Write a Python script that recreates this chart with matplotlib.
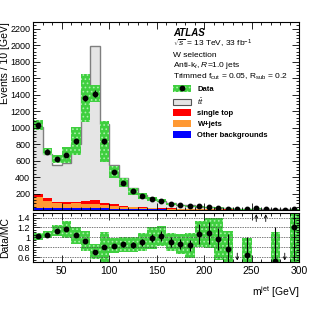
import numpy as np
import matplotlib
matplotlib.use("Agg")
import matplotlib.pyplot as plt
from matplotlib.patches import Patch
from matplotlib.lines import Line2D
from matplotlib.legend_handler import HandlerTuple
from matplotlib.ticker import MultipleLocator, AutoMinorLocator, FuncFormatter

plt.rcParams['font.family'] = ['Liberation Sans', 'DejaVu Sans']
plt.rcParams['mathtext.fontset'] = 'custom'
plt.rcParams['mathtext.rm'] = 'Liberation Sans'
plt.rcParams['mathtext.it'] = 'Liberation Sans:italic'
plt.rcParams['mathtext.bf'] = 'Liberation Sans:bold'
plt.rcParams['hatch.color'] = '#a8f0a8'
plt.rcParams['hatch.linewidth'] = 0.7

# bins of 10 GeV from 20 to 300
edges = np.arange(20, 301, 10)
centers = edges[:-1] + 5

# MC stack (events / 10 GeV)
mc_total = [1010, 675, 550, 572, 800, 1460, 1985, 1040, 550, 385, 265, 183, 137, 109,
            80, 65, 55, 42, 33, 27, 22, 18, 14, 12, 10, 7.8, 7, 5.8]
other_bkg = [30, 28, 25, 24, 24, 23, 22, 20, 17, 14, 12, 10, 8, 7,
             6, 5, 4, 4, 3, 3, 2, 2, 2, 2, 1, 1, 1, 1]
wjets = [130, 84, 55, 52, 56, 50, 47, 38, 32, 26, 20, 16, 12, 10,
         8, 7, 6, 5, 4, 4, 3, 3, 2, 2, 2, 2, 1, 1]
single_top = [40, 36, 22, 20, 20, 40, 50, 25, 18, 12, 10, 8, 7, 6,
              5, 4, 4, 3, 3, 3, 2, 2, 2, 2, 2, 1, 1, 1]

# data
data = [1030, 709, 622, 664, 832, 1358, 1410, 832, 457, 331, 225, 165, 136, 112,
        72, 56, 46, 45, 36, 26, 17, 8, 9, 19, 16, 4, 3, 7]
data_err = [30, 27, 22, 23, 30, 40, 40, 30, 22, 19, 16, 13, 11, 11,
            8, 7, 6.6, 8.4, 7.3, 6, 6.6, 5, 5, 7, 6, 5.5, 3.5, 4]
# green uncertainty bands
main_band = [60, 45, 50, 100, 170, 290, 100, 250, 72, 56, 40, 36, 25, 20,
             12, 10, 8, 7, 6, 5, 4, 3, 3, 3, 2, 2, 2, 2]
ratio_band = [0.07, 0.07, 0.11, 0.17, 0.17, 0.2, 0.15, 0.3, 0.15, 0.15, 0.15, 0.18, 0.22, 0.2,
              0.18, 0.2, 0.25, 0.27, 0.3, 0.43, 0.35, 0, 0.35, 0, 0, 0.6, 0, 0.7]

mc_total = np.array(mc_total, float)
other_bkg = np.array(other_bkg, float)
wjets = np.array(wjets, float)
single_top = np.array(single_top, float)
ttbar = mc_total - other_bkg - wjets - single_top
data = np.array(data, float)
data_err = np.array(data_err, float)
main_band = np.array(main_band, float)
ratio_band = np.array(ratio_band, float)

ratio = data / mc_total
ratio_err = data_err / mc_total

green = '#3fcf3f'
c_tt = '#e5e5e5'
c_red = '#ff0000'
c_orange = '#ff9933'
c_blue = '#0000ff'

fig = plt.figure(figsize=(3.32, 3.22), dpi=100)
ax = fig.add_axes([33/332, 1-210/322, 266/332, 188/322])
rax = fig.add_axes([33/332, 1-262/322, 266/332, 49.3/322])

# stack
bottom = np.zeros_like(mc_total)
for vals, col in [(other_bkg, c_blue), (wjets, c_orange), (single_top, c_red), (ttbar, c_tt)]:
    ax.stairs(bottom + vals, edges, baseline=bottom, fill=True, color=col, lw=0)
    bottom = bottom + vals
ax.stairs(mc_total, edges, color='#7f7f7f', lw=1.0)

# data band + points
ax.bar(centers, 2*main_band, bottom=data-main_band, width=10, color=green,
       edgecolor='#a8f0a8', lw=0, hatch='....')
ax.errorbar(centers, data, yerr=data_err, fmt='o', color='black', ms=3.2, lw=0.8, capsize=0)

ax.set_xlim(20, 300)
ax.set_ylim(0, 2280)
ax.yaxis.set_major_locator(MultipleLocator(200))
ax.yaxis.set_minor_locator(AutoMinorLocator(5))
ax.yaxis.set_major_formatter(FuncFormatter(lambda v, p: '' if v == 0 else '%d' % v))
ax.xaxis.set_major_locator(MultipleLocator(50))
ax.xaxis.set_minor_locator(MultipleLocator(10))
ax.tick_params(axis='x', labelbottom=False)
ax.set_ylabel('Events / 10 [GeV]', fontsize=7.5, ha='right')
ax.yaxis.set_label_coords(-0.085, 1.0)

for a in (ax, rax):
    a.tick_params(which='both', direction='in', top=True, right=True, labelsize=6.5, pad=2)
    a.tick_params(which='major', length=5, width=0.6)
    a.tick_params(which='minor', length=2.5, width=0.6)
    for s in a.spines.values():
        s.set_linewidth(0.8)

# text block
tx = 0.526
ax.text(tx, 0.941, 'ATLAS', transform=ax.transAxes, fontsize=7, weight='bold', style='italic', va='center')
ax.text(tx, 0.881, r'$\sqrt{s}$ = 13 TeV, 33 fb$^{-1}$', transform=ax.transAxes, fontsize=6, va='center')
ax.text(tx, 0.823, 'W selection', transform=ax.transAxes, fontsize=6, va='center')
ax.text(tx, 0.766, r'Anti-k$_{t}$, $R$=1.0 jets', transform=ax.transAxes, fontsize=6, va='center')
ax.text(tx, 0.709, r'Trimmed f$_{\rm cut}$ = 0.05, R$_{\rm sub}$ = 0.2', transform=ax.transAxes,
        fontsize=6, va='center')

h_data = (Patch(facecolor=green, edgecolor='#a8f0a8', lw=0, hatch='....'),
          Line2D([], [], marker='o', color='black', ms=3.2, ls='none'))
handles = [h_data,
           Patch(facecolor=c_tt, edgecolor='#555555', lw=0.8),
           Patch(facecolor=c_red, lw=0),
           Patch(facecolor=c_orange, lw=0),
           Patch(facecolor=c_blue, lw=0)]
labels = ['Data', r'$t\bar{t}$', 'single top', 'W+jets', 'Other backgrounds']
leg = ax.legend(handles, labels, loc='upper left', bbox_to_anchor=(0.515, 0.68), frameon=False,
                prop={'size': 5.5, 'weight': 'bold'}, handlelength=2.4, handleheight=1.0,
                handletextpad=0.8, labelspacing=0.38, borderaxespad=0,
                handler_map={tuple: HandlerTuple(ndivide=1)})

# ratio panel
for yv in [0.6, 0.8, 1.0, 1.2, 1.4]:
    rax.axhline(yv, color='#444444', lw=0.5, ls=(0, (2, 1.5)))
rax.bar(centers, 2*ratio_band, bottom=ratio-ratio_band, width=10, color=green,
        edgecolor='#a8f0a8', lw=0, hatch='....')
inr = (ratio >= 0.5) & (ratio <= 1.5)
rax.errorbar(centers[inr], ratio[inr], yerr=ratio_err[inr], fmt='o', color='black',
             ms=3.2, lw=0.8, capsize=0)
for c, r in zip(centers, ratio):
    if r > 1.5:
        rax.annotate('', xy=(c, 1.47), xytext=(c, 1.32),
                     arrowprops=dict(arrowstyle='->', lw=0.6, color='black', shrinkA=0, shrinkB=0,
                                     mutation_scale=5))
    elif r < 0.5:
        rax.annotate('', xy=(c, 0.53), xytext=(c, 0.68),
                     arrowprops=dict(arrowstyle='->', lw=0.6, color='black', shrinkA=0, shrinkB=0,
                                     mutation_scale=5))

rax.set_xlim(20, 300)
rax.set_ylim(0.5, 1.5)
rax.set_yticks([0.6, 0.8, 1.0, 1.2, 1.4])
rax.yaxis.set_minor_locator(AutoMinorLocator(4))
rax.yaxis.set_major_formatter(FuncFormatter(lambda v, p: '%g' % round(v, 1)))
rax.xaxis.set_major_locator(MultipleLocator(50))
rax.xaxis.set_minor_locator(MultipleLocator(10))
rax.tick_params(axis='x', labelsize=7.5, pad=3)
rax.set_ylabel('Data/MC', fontsize=7.5)
rax.yaxis.set_label_coords(-0.085, 0.5)
rax.set_xlabel(r'm$^{\rm jet}$ [GeV]', fontsize=7.5, ha='right', x=1.0, labelpad=6)

fig.savefig('out.png', dpi=100)
